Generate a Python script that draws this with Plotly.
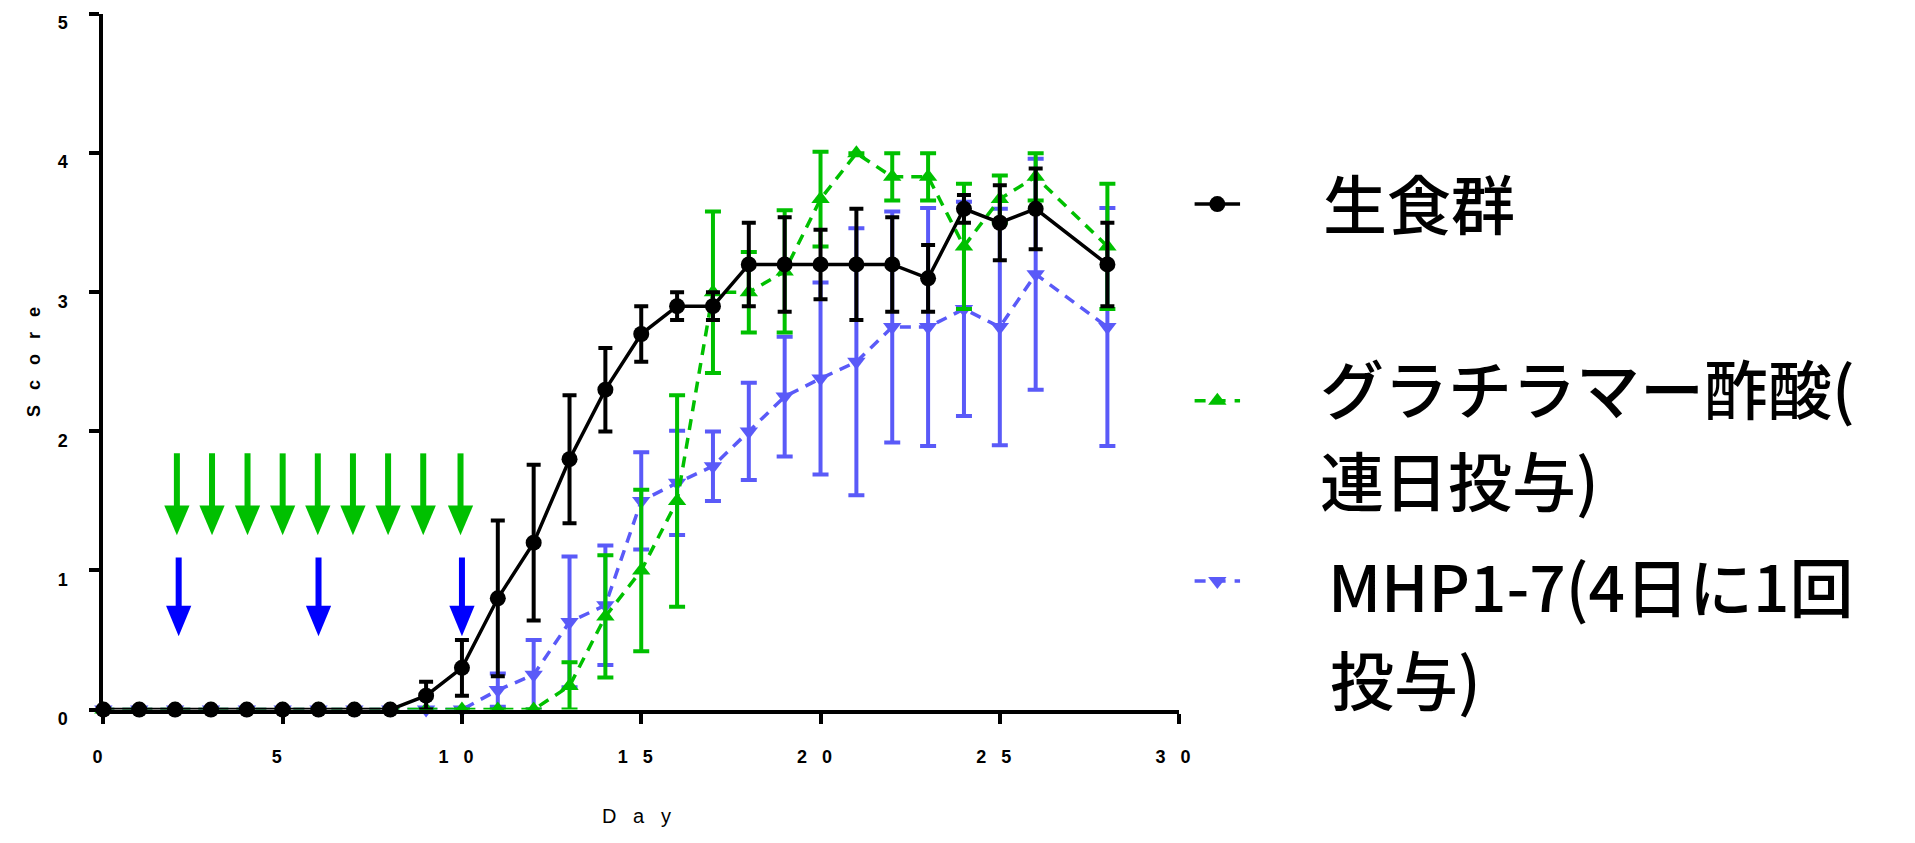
import plotly.graph_objects as go

W, H = 1915, 843

# ---------------- data ----------------
days = [0, 1, 2, 3, 4, 5, 6, 7, 8, 9, 10, 11, 12, 13, 14, 15, 16, 17, 18,
        19, 20, 21, 22, 23, 24, 25, 26, 28]

raw_mean = [0, 0, 0, 0, 0, 0, 0, 0, 0, 0.1, 0.3, 0.8, 1.2, 1.8, 2.3, 2.7, 2.9, 2.9,
            3.2, 3.2, 3.2, 3.2, 3.2, 3.1, 3.6, 3.5, 3.6, 3.2]
raw_sem = [0, 0, 0, 0, 0, 0, 0, 0, 0, 0.1, 0.2, 0.56, 0.56, 0.46, 0.3, 0.2, 0.1, 0.1,
           0.3, 0.34, 0.25, 0.4, 0.34, 0.24, 0.1, 0.27, 0.29, 0.3]

ga_mean = [0, 0, 0, 0, 0, 0, 0, 0, 0, 0, 0, 0, 0, 0.17, 0.67, 1.0, 1.5, 3.0,
           3.0, 3.15, 3.67, 4.0, 3.83, 3.83, 3.33, 3.67, 3.83, 3.33]
ga_sem = [0, 0, 0, 0, 0, 0, 0, 0, 0, 0, 0, 0, 0, 0.17, 0.44, 0.58, 0.76, 0.58,
          0.29, 0.44, 0.34, 0, 0.17, 0.17, 0.45, 0.17, 0.17, 0.45]

mhp_mean = [0, 0, 0, 0, 0, 0, 0, 0, 0, 0, 0, 0.14, 0.25, 0.63, 0.75, 1.5, 1.63, 1.75,
            2.0, 2.25, 2.38, 2.5, 2.75, 2.75, 2.88, 2.75, 3.13, 2.75]
mhp_sem = [0, 0, 0, 0, 0, 0, 0, 0, 0, 0, 0, 0.12, 0.25, 0.47, 0.43, 0.35, 0.375, 0.25,
           0.35, 0.43, 0.69, 0.96, 0.83, 0.855, 0.77, 0.85, 0.83, 0.855]

series_names = ["生食群", "グラチラマー酢酸(連日投与)", "MHP1-7(4日に1回投与)"]
legend_lines = [["生食群"], ["グラチラマー酢酸(", "連日投与)"], ["MHP1-7(4日に1回", "投与)"]]

# dosing days marked by arrows
ga_dose_days = [2.05, 3.03, 4.02, 5.0, 5.98, 6.96, 7.94, 8.92, 9.96]
mhp_dose_days = [2.1, 6.0, 10.0]

x_ticks = [0, 5, 10, 15, 20, 25, 30]
y_ticks = [0, 1, 2, 3, 4, 5]

# ---------------- styles ----------------
BLACK = "#000000"
GREEN = "#00C000"
BLUE = "#5A5AF8"
ARROW_BLUE = "#0000FF"
SP = "\u2002\u2004"  # wide letter spacing used by the original
LATIN = "Arial, 'Liberation Sans', sans-serif"
CJK = "'Noto Sans CJK JP', sans-serif"

# plot area in pixels
L, R, T, B = 93.5, 1182.3, 13.4, 725.8


def spaced(s):
    return SP.join(list(s))


def nz(errs):
    return [e if e > 0 else None for e in errs]


fig = go.Figure()

common = dict(mode="lines+markers", cliponaxis=False, showlegend=False)

fig.add_trace(go.Scatter(
    x=days, y=mhp_mean, name=series_names[2],
    line=dict(color=BLUE, width=3.5, dash="11px,8px"),
    marker=dict(symbol="triangle-down", size=16, color=BLUE),
    error_y=dict(type="data", array=nz(mhp_sem), color=BLUE, thickness=4, width=8),
    **common))
fig.add_trace(go.Scatter(
    x=days, y=ga_mean, name=series_names[1],
    line=dict(color=GREEN, width=3.5, dash="11px,8px"),
    marker=dict(symbol="triangle-up", size=16, color=GREEN),
    error_y=dict(type="data", array=nz(ga_sem), color=GREEN, thickness=4, width=8),
    **common))
fig.add_trace(go.Scatter(
    x=days, y=raw_mean, name=series_names[0],
    line=dict(color=BLACK, width=3.5),
    marker=dict(symbol="circle", size=16, color=BLACK),
    error_y=dict(type="data", array=nz(raw_sem), color=BLACK, thickness=4, width=7),
    **common))

# ---------------- dosing arrows ----------------
shapes = []


def add_arrow(d, top, base, tip, color, hw=0.352):
    shapes.append(dict(type="line", xref="x", yref="y", x0=d, x1=d, y0=top, y1=base - 0.02,
                       line=dict(color=color, width=6)))
    shapes.append(dict(type="path", xref="x", yref="y",
                       path=f"M {d - hw},{base} L {d + hw},{base} L {d},{tip} Z",
                       fillcolor=color, line=dict(width=0)))


for d in ga_dose_days:
    add_arrow(d, 1.842, 1.467, 1.253, GREEN)
for d in mhp_dose_days:
    add_arrow(d, 1.093, 0.747, 0.527, ARROW_BLUE)

# ---------------- legend (manual) ----------------
leg_x0, leg_x1 = 1198, 1244
leg_y = [208, 409.5, 594.2]
leg_style = [
    (BLACK, "solid", "circle"),
    (GREEN, "11px,9px", "triangle-up"),
    (BLUE, "11px,9px", "triangle-down"),
]
for yy, (col, dash, sym) in zip(leg_y, leg_style):
    fig.add_trace(go.Scatter(x=[leg_x0, leg_x1], y=[yy, yy], mode="lines",
                             line=dict(color=col, width=3.5, dash=dash),
                             xaxis="x2", yaxis="y2", showlegend=False, hoverinfo="skip"))
    fig.add_trace(go.Scatter(x=[(leg_x0 + leg_x1) / 2], y=[yy], mode="markers",
                             marker=dict(symbol=sym, size=16, color=col),
                             xaxis="x2", yaxis="y2", showlegend=False, hoverinfo="skip"))

annotations = []
LEG_FONT = 64
line_pos = [[(1326, 205)], [(1323, 394), (1323, 489)], [(1331, 597), (1333, 692)]]
for lines, poss in zip(legend_lines, line_pos):
    for txt, (px, py) in zip(lines, poss):
        annotations.append(dict(text=txt, x=px / W, y=1 - py / H, xref="paper", yref="paper",
                                xanchor="left", yanchor="middle", showarrow=False,
                                font=dict(family=CJK, size=LEG_FONT, color="black", weight=500)))

# axis titles
annotations.append(dict(text=spaced("Score"), x=24 / W, y=1 - 370 / H, xref="paper", yref="paper",
                        textangle=-90, showarrow=False, xanchor="center", yanchor="middle",
                        font=dict(family=LATIN, size=18, color="black", weight="bold")))
annotations.append(dict(text=spaced("Day"), x=633 / W, y=1 - 835 / H, xref="paper", yref="paper",
                        showarrow=False, xanchor="center", yanchor="middle",
                        font=dict(family=LATIN, size=20, color="black")))

axis_common = dict(showgrid=False, zeroline=False, showline=True, linecolor="black", linewidth=4,
                   ticks="outside", ticklen=10, tickwidth=4, tickcolor="black",
                   tickfont=dict(family=LATIN, size=18, color="black", weight="bold"),
                   ticklabeloverflow="allow", fixedrange=True)

fig.update_layout(
    width=W, height=H,
    margin=dict(l=0, r=0, t=0, b=0),
    paper_bgcolor="white", plot_bgcolor="rgba(0,0,0,0)",
    showlegend=False,
    xaxis=dict(domain=[L / W, R / W], range=[0, 30], tickvals=x_ticks,
               ticktext=[spaced(str(v)) for v in x_ticks],
               ticklabelshift=-6, ticklabelstandoff=18, **axis_common),
    yaxis=dict(domain=[1 - B / H, 1 - T / H], range=[0, 5], tickvals=y_ticks,
               ticktext=[str(v) for v in y_ticks],
               ticklabelshift=9, ticklabelstandoff=18, **axis_common),
    xaxis2=dict(domain=[1190 / W, 1250 / W], range=[1190, 1250], visible=False, fixedrange=True,
                anchor="y2"),
    yaxis2=dict(domain=[1 - 650 / H, 1 - 150 / H], range=[650, 150], visible=False, fixedrange=True,
                anchor="x2"),
    shapes=shapes,
    annotations=annotations,
)

fig.write_html(
    "out.html",
    config={"displayModeBar": False},
    post_script="document.documentElement.style.margin='0';document.body.style.margin='0';"
                "document.body.style.overflow='hidden';",
)
